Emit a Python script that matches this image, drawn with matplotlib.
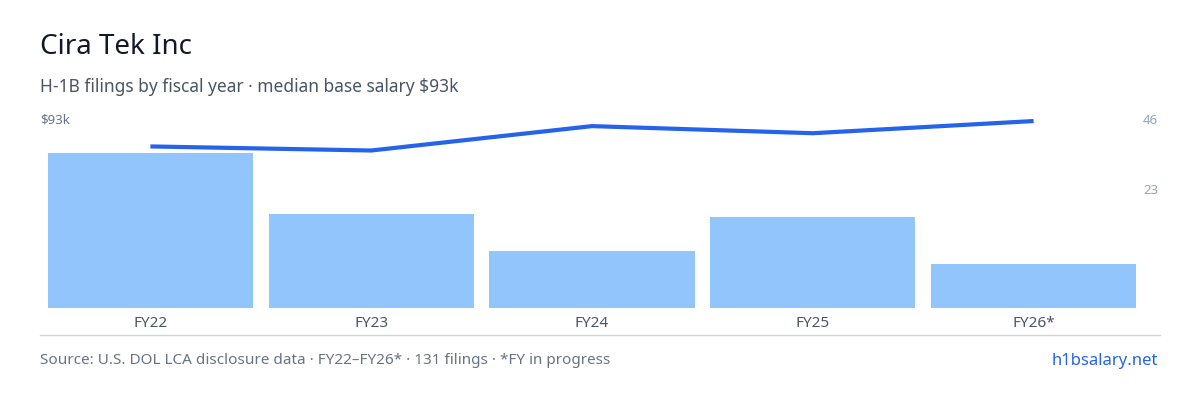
import matplotlib
matplotlib.use("Agg")
import matplotlib.pyplot as plt

years = ["FY22", "FY23", "FY24", "FY25", "FY26*"]
filings = [46, 28, 17, 27, 13]
salary_k = [79.5, 77.5, 89.5, 86, 92]

plt.rcParams['font.family'] = ['Noto Sans', 'DejaVu Sans']
fig = plt.figure(figsize=(12, 4), dpi=100)
W, H = 1200, 400
ax = fig.add_axes([40/W, 1-308/H, 1104/W, 189/H])
x = list(range(len(years)))
ax.bar(x, filings, width=0.93, color="#93c5fd")
ax.set_xlim(-0.5, len(years)-0.5)
ax.set_ylim(0, 46*189/155)
for s in ax.spines.values():
    s.set_visible(False)
ax.set_yticks([])
ax.set_xticks([])
for i, y in enumerate(years):
    ax.text(i, -0.04, y, transform=ax.get_xaxis_transform(), ha="center", va="top",
            fontsize=11, color="#4b5563")
ax2 = ax.twinx()
ax2.plot(x, salary_k, color="#2563eb", lw=3, solid_capstyle="butt")
ax2.set_ylim(0, 93)
ax2.set_axis_off()
ax.set_zorder(1); ax2.set_zorder(2); ax2.patch.set_visible(False)

fig.add_artist(plt.Line2D([40/W, 1160/W], [1-335/H]*2, color="#d1d5db", lw=1))
fig.text(40/W, 1-47/H, "Cira Tek Inc", fontsize=20, va="center", color="#111827")
fig.text(40/W, 1-87/H, "H-1B filings by fiscal year · median base salary $93k", fontsize=12.5,
         va="center", color="#4b5563")
fig.text(40/W, 1-120/H, "$93k", fontsize=9.5, va="center", color="#6b7280")
fig.text(1158/W, 1-120/H, "46", fontsize=9.5, va="center", ha="right", color="#94a3b8")
fig.text(1158/W, 1-191/H, "23", fontsize=9.5, va="center", ha="right", color="#94a3b8")
fig.text(40/W, 1-361/H, "Source: U.S. DOL LCA disclosure data · FY22–FY26* · 131 filings · *FY in progress",
         fontsize=11, va="center", color="#6b7280")
fig.text(1158/W, 1-361/H, "h1bsalary.net", fontsize=12, va="center", ha="right", color="#2563eb")
fig.savefig("out.png", dpi=100, facecolor="white")
